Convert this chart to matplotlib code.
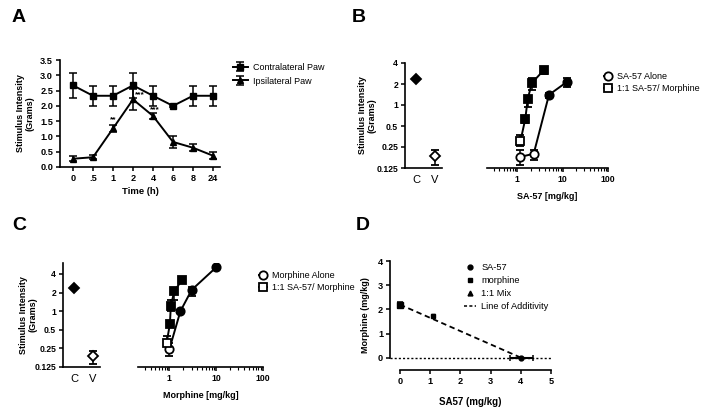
import numpy as np
import matplotlib
matplotlib.use("Agg")
import matplotlib.pyplot as plt
from matplotlib.ticker import NullFormatter, FixedLocator, NullLocator, LogLocator
from matplotlib.lines import Line2D

plt.rcParams['font.family'] = ['Liberation Sans', 'DejaVu Sans']

# ---------------- data ----------------
# Panel A
time_labels = ["0", ".5", "1", "2", "4", "6", "8", "24"]
contra = [2.67, 2.33, 2.33, 2.67, 2.33, 2.00, 2.33, 2.33]
contra_err = [0.42, 0.33, 0.33, 0.42, 0.33, 0.04, 0.33, 0.33]
ipsi = [0.27, 0.32, 1.26, 2.21, 1.67, 0.82, 0.63, 0.37]
ipsi_err = [0.08, 0.06, 0.13, 0.33, 0.10, 0.20, 0.12, 0.11]
stars_text = ["**", "***", "***"]
stars_x = [2.0, 3.35, 4.1]
stars_y = [1.55, 2.36, 1.88]

# Panel B
ctrl_labels = ["C", "V"]
b_ctrl_y = [2.36, 0.184]
b_ctrl_lo = [2.36, 0.139]
b_ctrl_hi = [2.36, 0.229]
b_alone_x = [1.15, 2.3, 5.0, 12.5]
b_alone_y = [0.18, 0.20, 1.40, 2.15]
b_alone_lo = [0.139, 0.161, 1.26, 1.81]
b_alone_hi = [0.229, 0.229, 1.49, 2.44]
b_alone_filled = [False, False, True, True]
b_mix_x = [1.17, 1.5, 1.7, 2.1, 3.8]
b_mix_y = [0.30, 0.63, 1.22, 2.07, 3.14]
b_mix_lo = [0.255, 0.55, 0.93, 1.66, 2.81]
b_mix_hi = [0.375, 0.69, 1.33, 2.44, 3.39]
b_mix_filled = [False, True, True, True, True]

# Panel C
c_ctrl_y = [2.40, 0.186]
c_ctrl_lo = [2.40, 0.139]
c_ctrl_hi = [2.40, 0.229]
c_alone_x = [1.0, 1.73, 3.0, 10.0]
c_alone_y = [0.24, 1.00, 2.20, 5.10]
c_alone_lo = [0.186, 0.94, 1.73, 4.9]
c_alone_hi = [0.305, 1.06, 2.44, 5.3]
c_alone_filled = [False, True, True, True]
c_mix_x = [0.88, 1.03, 1.08, 1.28, 1.87]
c_mix_y = [0.31, 0.62, 1.22, 2.10, 3.20]
c_mix_lo = [0.27, 0.55, 0.99, 1.52, 3.0]
c_mix_hi = [0.39, 0.70, 1.52, 2.35, 3.4]
c_mix_filled = [False, True, True, True, True]

# Panel D
d_sa57 = (4.02, 0.0, 0.37)      # x, y, xerr
d_morph = (0.0, 2.2, 0.12)      # x, y, yerr
d_mix = (1.1, 1.75, 0.05)       # x, y, yerr
d_add_x = [0.0, 4.02]
d_add_y = [2.2, 0.0]

W, H = 704, 413
fig = plt.figure(figsize=(W / 100, H / 100), dpi=100)

def ax_px(l, t, r, b):
    return fig.add_axes([l / W, 1 - b / H, (r - l) / W, (b - t) / H])

TICKFS = 6.6
LBLFS = 6.5
LW = 1.4

def style(ax, left=True):
    for s in ['top', 'right']:
        ax.spines[s].set_visible(False)
    ax.spines['left'].set_visible(left)
    for s in ['left', 'bottom']:
        ax.spines[s].set_linewidth(1.2)
    ax.tick_params(direction='out', width=1.1, length=3, labelsize=TICKFS, pad=2)
    for t in ax.get_xticklabels() + ax.get_yticklabels():
        t.set_fontweight('bold')

def ylabel_at(ax, box, right_px):
    # y-label anchor is the right edge of the rotated text
    ax.yaxis.set_label_coords((right_px - box[0]) / (box[2] - box[0]), 0.5)

# ---------------- Panel A ----------------
boxA = (60, 60, 220, 167)
axA = ax_px(*boxA)
xs = np.arange(len(time_labels))
axA.errorbar(xs, contra, yerr=contra_err, color='black', marker='s', ms=4.5,
             lw=LW, capsize=3, elinewidth=1.1, capthick=1.1, label='Contralateral Paw')
axA.errorbar(xs, ipsi, yerr=ipsi_err, color='black', marker='^', ms=4.5,
             lw=LW, capsize=3, elinewidth=1.1, capthick=1.1, label='Ipsilateral Paw')
for t, x, y in zip(stars_text, stars_x, stars_y):
    axA.text(x, y, t, ha='center', va='center', fontsize=6, fontweight='bold')
axA.set_xlim(-0.65, 7.35)
axA.set_ylim(0, 3.5)
axA.set_xticks(xs)
axA.set_xticklabels(time_labels)
axA.set_yticks(np.arange(0, 3.51, 0.5))
axA.set_yticklabels([f"{v:.1f}" for v in np.arange(0, 3.51, 0.5)])
style(axA)
axA.set_xlabel("Time (h)", fontsize=LBLFS + 0.3, fontweight='bold', labelpad=3)
axA.set_ylabel("Stimulus Intensity\n(Grams)", fontsize=LBLFS, fontweight='bold')
ylabel_at(axA, boxA, 35)
axA.legend(loc='upper left', bbox_to_anchor=(225 / W, 1 - 55 / H), bbox_transform=fig.transFigure,
           frameon=False, fontsize=6.5, handlelength=1.6, handletextpad=0.6, labelspacing=0.5)

# ---------- helper for dose-response panels ----------
def dose_panel(ctrl_box, curve_box, ctrl_y, ctrl_lo, ctrl_hi, ax_x1, ax_y1, ax_lo1, ax_hi1, f1,
               ax_x2, ax_y2, ax_lo2, ax_hi2, f2, ytop, xlabel, legend_labels, leg_anchor, ylabel_right):
    axc = ax_px(*ctrl_box)
    pos = [0, 1]
    for p, y, lo, hi, fill in zip(pos, ctrl_y, ctrl_lo, ctrl_hi, [True, False]):
        axc.errorbar([p], [y], yerr=[[y - lo], [hi - y]], fmt='D', ms=5.5, color='black',
                     mfc='black' if fill else 'white', mec='black', mew=1.3,
                     capsize=3, elinewidth=1.1, capthick=1.1)
    axc.set_yscale('log', base=2)
    axc.set_ylim(0.125, ytop)
    yt = [0.125, 0.25, 0.5, 1, 2, 4]
    axc.yaxis.set_major_locator(FixedLocator(yt))
    axc.yaxis.set_minor_locator(NullLocator())
    axc.set_yticklabels(["0.125", "0.25", "0.5", "1", "2", "4"])
    axc.set_xlim(-0.6, 1.4)
    axc.set_xticks(pos)
    axc.set_xticklabels(ctrl_labels)
    style(axc)
    axc.tick_params(axis='y', labelsize=6.2)
    axc.tick_params(axis='x', length=0, labelsize=8, pad=5)
    for t in axc.get_xticklabels():
        t.set_fontweight('normal')
    axc.set_ylabel("Stimulus Intensity\n(Grams)", fontsize=LBLFS, fontweight='bold')
    ylabel_at(axc, ctrl_box, ylabel_right)

    axd = ax_px(*curve_box)
    axd.plot(ax_x1, ax_y1, color='black', lw=LW, zorder=1)
    axd.plot(ax_x2, ax_y2, color='black', lw=LW, zorder=1)
    for xv, yv, lo, hi, fill in zip(ax_x1, ax_y1, ax_lo1, ax_hi1, f1):
        axd.errorbar([xv], [yv], yerr=[[yv - lo], [hi - yv]], fmt='o', ms=6, color='black',
                     mfc='black' if fill else 'white', mec='black', mew=1.3,
                     capsize=3, elinewidth=1.1, capthick=1.1, zorder=3)
    for xv, yv, lo, hi, fill in zip(ax_x2, ax_y2, ax_lo2, ax_hi2, f2):
        axd.errorbar([xv], [yv], yerr=[[yv - lo], [hi - yv]], fmt='s', ms=5.5, color='black',
                     mfc='black' if fill else 'white', mec='black', mew=1.3,
                     capsize=3, elinewidth=1.1, capthick=1.1, zorder=3)
    axd.set_xscale('log')
    axd.set_yscale('log', base=2)
    axd.set_ylim(0.125, ytop)
    axd.set_xlim(0.215, 100)
    axd.set_xticks([1, 10, 100])
    axd.set_xticklabels(["1", "10", "100"])
    axd.xaxis.set_minor_locator(LogLocator(base=10, subs=np.arange(2, 10), numticks=20))
    axd.xaxis.set_minor_formatter(NullFormatter())
    axd.yaxis.set_major_locator(NullLocator())
    axd.yaxis.set_minor_locator(NullLocator())
    style(axd, left=False)
    axd.tick_params(axis='x', labelsize=6.2)
    axd.tick_params(axis='x', which='minor', length=2, width=0.8)
    axd.set_xlabel(xlabel, fontsize=LBLFS, fontweight='bold', labelpad=6)
    handles = [Line2D([], [], color='black', marker='o', ms=6, mfc='white', mew=1.3, lw=LW),
               Line2D([], [], color='black', marker='s', ms=5.5, mfc='white', mew=1.3, lw=LW)]
    axd.legend(handles, legend_labels, loc='upper left', bbox_to_anchor=leg_anchor,
               bbox_transform=fig.transFigure, frameon=False, fontsize=6.5,
               handlelength=0.9, handletextpad=0.5, labelspacing=0.3)

# ---------------- Panel B ----------------
dose_panel((405, 63, 442, 168), (487, 63, 608, 168), b_ctrl_y, b_ctrl_lo, b_ctrl_hi,
           b_alone_x, b_alone_y, b_alone_lo, b_alone_hi, b_alone_filled,
           b_mix_x, b_mix_y, b_mix_lo, b_mix_hi, b_mix_filled, 4.0,
           "SA-57 [mg/kg]", ["SA-57 Alone", "1:1 SA-57/ Morphine"], (596 / W, 1 - 64 / H), 377)

# ---------------- Panel C ----------------
dose_panel((63, 263, 100, 367), (138, 263, 263, 367), c_ctrl_y, c_ctrl_lo, c_ctrl_hi,
           c_alone_x, c_alone_y, c_alone_lo, c_alone_hi, c_alone_filled,
           c_mix_x, c_mix_y, c_mix_lo, c_mix_hi, c_mix_filled, 6.0,
           "Morphine [mg/kg]", ["Morphine Alone", "1:1 SA-57/ Morphine"], (251 / W, 1 - 263 / H), 38)

# ---------------- Panel D ----------------
boxD = (390, 261, 551, 370)
axD = ax_px(*boxD)
axD.axhline(0, color='black', ls=(0, (1.5, 1.5)), lw=1.0, zorder=1)
axD.plot(d_add_x, d_add_y, color='black', ls=(0, (3, 2)), lw=1.3, zorder=1)
axD.errorbar([d_sa57[0]], [d_sa57[1]], xerr=d_sa57[2], fmt='o', ms=3.5, color='black',
             capsize=2.5, elinewidth=1.5, capthick=1.1, zorder=3)
axD.errorbar([d_morph[0]], [d_morph[1]], yerr=d_morph[2], fmt='s', ms=4, color='black',
             capsize=2.5, elinewidth=1.1, capthick=1.1, zorder=3, clip_on=False)
axD.errorbar([d_mix[0]], [d_mix[1]], yerr=d_mix[2], fmt='s', ms=3.5, color='black',
             capsize=1.5, elinewidth=1.0, capthick=1.0, zorder=3)
axD.set_xlim(-0.33, 5)
axD.set_ylim(-0.5, 4)
axD.set_xticks(range(0, 6))
axD.set_yticks(range(0, 5))
style(axD)
axD.spines['left'].set_bounds(0, 4)
axD.spines['bottom'].set_bounds(0, 5)
axD.set_xlabel("SA57 (mg/kg)", fontsize=LBLFS + 0.5, fontweight='bold', labelpad=8)
axD.set_ylabel("Morphine (mg/kg)", fontsize=LBLFS, fontweight='bold')
ylabel_at(axD, boxD, 370)
d_handles = [Line2D([], [], color='black', marker='o', ms=3.5, lw=0),
             Line2D([], [], color='black', marker='s', ms=3.5, lw=0),
             Line2D([], [], color='black', marker='^', ms=3.5, lw=0),
             Line2D([], [], color='black', ls=(0, (2, 1.5)), lw=1.1)]
axD.legend(d_handles, ["SA-57", "morphine", "1:1 Mix", "Line of Additivity"], loc='upper left',
           bbox_to_anchor=(456 / W, 1 - 255 / H), bbox_transform=fig.transFigure, frameon=False,
           fontsize=6.7, handlelength=1.3, handletextpad=0.5, labelspacing=0.42)

# panel letters
for letter, x, y in [("A", 12, 18), ("B", 352, 18), ("C", 12, 225), ("D", 356, 225)]:
    fig.text(x / W, 1 - y / H, letter, fontsize=14, fontweight='bold', va='center', ha='left')

fig.savefig("out.png", dpi=100)
